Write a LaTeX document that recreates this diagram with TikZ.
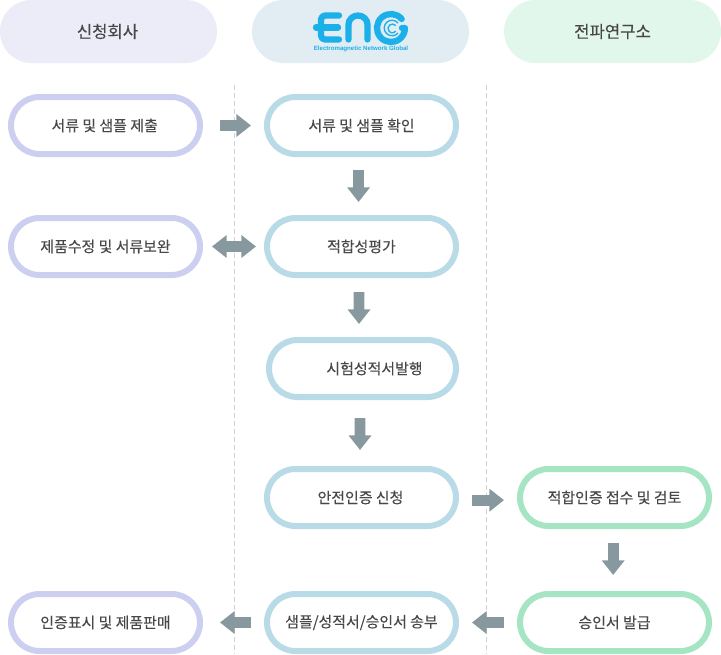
\documentclass[tikz,border=0pt]{standalone}
\usepackage{fontspec}
\setmainfont[FakeBold=0.15]{Noto Sans CJK KR}
\newfontfamily\logofont{Liberation Sans}
\usetikzlibrary{arrows.meta,positioning,calc}
\definecolor{headA}{HTML}{EBECF7}
\definecolor{headB}{HTML}{E1EDF2}
\definecolor{headC}{HTML}{E2F7EC}
\definecolor{lineA}{HTML}{CCCFF0}
\definecolor{lineB}{HTML}{B9DBE7}
\definecolor{lineC}{HTML}{A6E5C3}
\definecolor{arrowgray}{HTML}{87999F}
\definecolor{logoblue}{HTML}{1CB0EA}
\definecolor{txtgray}{HTML}{484848}
\begin{document}
\begin{tikzpicture}[x=0.75pt,y=-0.75pt]

  \tikzset{headpill/.style={minimum width=162.75pt,minimum height=47.25pt,rounded corners=23.6pt,
      inner sep=0pt,outer sep=0pt,text=txtgray,font=\fontsize{12.5pt}{14pt}\selectfont}}
  \tikzset{stepbox/.style={draw,line width=4.5pt,fill=white,minimum width=141.75pt,minimum height=42.75pt,
      rounded corners=21.3pt,inner sep=0pt,text=txtgray,font=\fontsize{11.2pt}{13pt}\selectfont}}
  \tikzset{flowarrow/.style={draw=arrowgray,line width=8pt,-{Triangle[length=11pt,width=16.5pt]}}}
  \tikzset{twoarrow/.style={draw=arrowgray,line width=8pt,{Triangle[length=11pt,width=16.5pt]}-{Triangle[length=11pt,width=16.5pt]}}}
  \tikzset{laneline/.style={draw=black!18,line width=0.7pt,dash pattern=on 3.75pt off 2.25pt}}
  \tikzset{logoline/.style={draw=logoblue,line width=4.7pt,line cap=round,line join=round}}

  \useasboundingbox (0,0) rectangle (721,654);

  % Headers
  \node[headpill,fill=headA] (head apply) at (108.5,31.5) {\hspace*{-1.5pt}신청회사};
  \node[headpill,fill=headB] (head eng) at (360.5,31.5) {};
  \node[headpill,fill=headC] (head lab) at (612.5,31.5) {전파연구소};

  % Logo
  \draw[logoline,rounded corners=3pt] (339,15.5) -- (321,15.5) -- (321,39.5) -- (339,39.5);
  \draw[logoline] (316,27.5) -- (338,27.5);
  \draw[logoline] (348.5,39.5) -- (348.5,24.5) arc[start angle=180,end angle=360,x radius=9.5,y radius=9] -- (367.5,39.5);
  \draw[logoline] (401.7,19) arc[start angle=-40,end angle=-360,radius=14] -- (402,28);
  \draw[logoblue,line width=1pt] (398,23) arc[start angle=-40,end angle=-320,radius=7.8];
  \draw[logoblue,line width=1pt] (395.8,25.6) arc[start angle=-40,end angle=-320,radius=4.4];
  \node[text=logoblue,font=\logofont\bfseries\fontsize{4.6pt}{5pt}\selectfont,inner sep=0pt] (logo text) at (361,49) {Electromagnetic Network Global};

  % Lanes
  \coordinate (lane A top) at (234.5,85);
  \coordinate (lane A end) at (234.5,654);
  \coordinate (lane B top) at (486.5,85);
  \coordinate (lane B end) at (486.5,654);
  \draw[laneline] (lane A top) -- (lane A end);
  \draw[laneline] (lane B top) -- (lane B end);

  % Left column
  \node[stepbox,draw=lineA] (submit) at (105.5,125.5) {\hspace*{-1.2pt}서류 및 샘플 제출};
  \node[stepbox,draw=lineA] (revise) at (105.5,246.5) {제품수정 및 서류보완};
  \node[stepbox,draw=lineA] (sell) at (105.5,622.5) {인증표시 및 제품판매};

  % Middle column
  \node[stepbox,draw=lineB] (check) at (361.5,125.5) {서류 및 샘플 확인};
  \node[stepbox,draw=lineB] (assess) at (361.5,246.5) {적합성평가};
  \node[stepbox,draw=lineB,minimum width=140.25pt] (report) at (362.5,368.5) {\hspace*{18pt}시험성적서발행};
  \node[stepbox,draw=lineB] (safety) at (361.5,497.5) {\hspace*{-1.5pt}안전인증 신청};
  \node[stepbox,draw=lineB] (send) at (361.5,622.5) {샘플/성적서/승인서 송부};

  % Right column
  \node[stepbox,draw=lineC] (receive) at (614.5,497.5) {적합인증 접수 및 검토};
  \node[stepbox,draw=lineC] (approve) at (614.5,622.5) {승인서 발급};

  % Arrows
  \draw[flowarrow,shorten <=12.75pt,shorten >=9.75pt] (submit) -- (check);
  \draw[twoarrow,shorten <=6.75pt,shorten >=6pt] (revise) -- (assess);
  \draw[flowarrow,shorten <=9.75pt,shorten >=9.75pt] ([xshift=-2.2pt]check.south) -- ([xshift=-2.2pt]assess.north);
  \draw[flowarrow,shorten <=10.5pt,shorten >=9.75pt] ([xshift=-1.9pt]assess.south) -- ([xshift=-2.6pt]report.north);
  \draw[flowarrow,shorten <=13.5pt,shorten >=12pt] ([xshift=-1.9pt]report.south) -- ([xshift=-1.1pt]safety.north);
  \draw[flowarrow,shorten <=9.75pt,shorten >=9.75pt,transform canvas={yshift=-2pt}] (safety) -- (receive);
  \draw[flowarrow,shorten <=10.5pt,shorten >=12pt] ([xshift=-1pt]receive.south) -- ([xshift=-1pt]approve.north);
  \draw[flowarrow,shorten <=9.75pt,shorten >=9.75pt] (approve) -- (send);
  \draw[flowarrow,shorten <=9.75pt,shorten >=12.75pt] (send) -- (sell);

\end{tikzpicture}
\end{document}
